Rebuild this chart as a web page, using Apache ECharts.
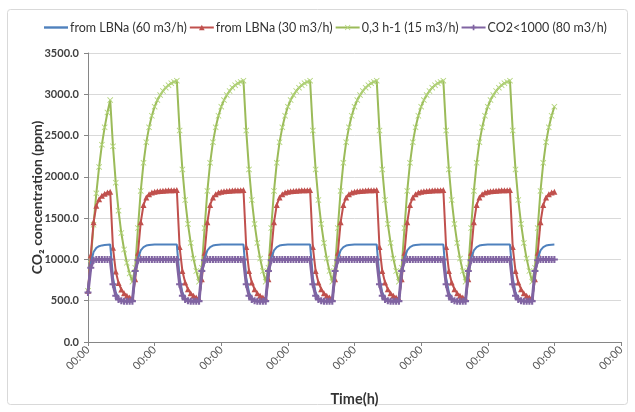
<!DOCTYPE html>
<html>
<head>
<meta charset="utf-8">
<script src="https://cdn.jsdelivr.net/npm/echarts@6/dist/echarts.min.js"></script>
<style>
html,body{margin:0;padding:0;background:#fff;}
#c{width:635px;height:412px;}
</style>
</head>
<body>
<div id="c"></div>
<script>
// Hourly samples, t = 0 .. 168 h
const seriesNames = ['from LBNa (60 m3/h)', 'from LBNa (30 m3/h)', '0,3 h-1 (15 m3/h)', 'CO2<1000 (80 m3/h)'];
const xTickLabel = '00:00';
const yTicks = [0, 500, 1000, 1500, 2000, 2500, 3000, 3500];

const blue60 = [
  620,950,1090,1140,1160,1170,1175,1178,1180,780,600,530,505,500,500,500,
  500,820,1010,1110,1150,1168,1175,1178,1180,1180,1180,1180,1180,1180,1180,1180,1180,780,600,530,505,500,500,500,
  500,820,1010,1110,1150,1168,1175,1178,1180,1180,1180,1180,1180,1180,1180,1180,1180,780,600,530,505,500,500,500,
  500,820,1010,1110,1150,1168,1175,1178,1180,1180,1180,1180,1180,1180,1180,1180,1180,780,600,530,505,500,500,500,
  500,820,1010,1110,1150,1168,1175,1178,1180,1180,1180,1180,1180,1180,1180,1180,1180,780,600,530,505,500,500,500,
  500,820,1010,1110,1150,1168,1175,1178,1180,1180,1180,1180,1180,1180,1180,1180,1180,780,600,530,505,500,500,500,
  500,820,1010,1110,1150,1168,1175,1178,1180,1180,1180,1180,1180,1180,1180,1180,1180,780,600,530,505,500,500,500,
  500,820,1010,1110,1150,1168,1175,1178,1180
];
const red30 = [
  620,1050,1450,1650,1730,1770,1795,1810,1820,1140,855,715,635,590,560,540,
  525,760,1080,1450,1660,1750,1790,1810,1820,1826,1830,1833,1835,1837,1838,1839,1840,1150,860,720,640,590,560,540,
  525,760,1080,1450,1660,1750,1790,1810,1820,1826,1830,1833,1835,1837,1838,1839,1840,1150,860,720,640,590,560,540,
  525,760,1080,1450,1660,1750,1790,1810,1820,1826,1830,1833,1835,1837,1838,1839,1840,1150,860,720,640,590,560,540,
  525,760,1080,1450,1660,1750,1790,1810,1820,1826,1830,1833,1835,1837,1838,1839,1840,1150,860,720,640,590,560,540,
  525,760,1080,1450,1660,1750,1790,1810,1820,1826,1830,1833,1835,1837,1838,1839,1840,1150,860,720,640,590,560,540,
  525,760,1080,1450,1660,1750,1790,1810,1820,1826,1830,1833,1835,1837,1838,1839,1840,1150,860,720,640,590,560,540,
  525,760,1080,1450,1660,1750,1790,1810,1820
];
const green15 = [
  620,1000,1420,1800,2120,2390,2600,2780,2930,2370,1930,1590,1320,1120,960,830,
  730,900,1380,1830,2170,2420,2600,2740,2850,2930,2990,3040,3080,3110,3135,3150,3165,2560,2090,1720,1430,1200,1010,860,
  730,900,1380,1830,2170,2420,2600,2740,2850,2930,2990,3040,3080,3110,3135,3150,3165,2560,2090,1720,1430,1200,1010,860,
  730,900,1380,1830,2170,2420,2600,2740,2850,2930,2990,3040,3080,3110,3135,3150,3165,2560,2090,1720,1430,1200,1010,860,
  730,900,1380,1830,2170,2420,2600,2740,2850,2930,2990,3040,3080,3110,3135,3150,3165,2560,2090,1720,1430,1200,1010,860,
  730,900,1380,1830,2170,2420,2600,2740,2850,2930,2990,3040,3080,3110,3135,3150,3165,2560,2090,1720,1430,1200,1010,860,
  730,900,1380,1830,2170,2420,2600,2740,2850,2930,2990,3040,3080,3110,3135,3150,3165,2560,2090,1720,1430,1200,1010,860,
  730,900,1380,1830,2170,2420,2600,2740,2850
];
const purple80 = [
  600,900,990,1000,1000,1000,1000,1000,1000,700,560,515,500,495,495,495,
  495,860,990,1000,1000,1000,1000,1000,1000,1000,1000,1000,1000,1000,1000,1000,1000,700,560,515,500,495,495,495,
  495,860,990,1000,1000,1000,1000,1000,1000,1000,1000,1000,1000,1000,1000,1000,1000,700,560,515,500,495,495,495,
  495,860,990,1000,1000,1000,1000,1000,1000,1000,1000,1000,1000,1000,1000,1000,1000,700,560,515,500,495,495,495,
  495,860,990,1000,1000,1000,1000,1000,1000,1000,1000,1000,1000,1000,1000,1000,1000,700,560,515,500,495,495,495,
  495,860,990,1000,1000,1000,1000,1000,1000,1000,1000,1000,1000,1000,1000,1000,1000,700,560,515,500,495,495,495,
  495,860,990,1000,1000,1000,1000,1000,1000,1000,1000,1000,1000,1000,1000,1000,1000,700,560,515,500,495,495,495,
  495,860,990,1000,1000,1000,1000,1000,1000
];

const toPairs = arr => arr.map((v, i) => [i, v]);
const X_PATH = 'path://M0,1 L1,0 L5,4 L9,0 L10,1 L6,5 L10,9 L9,10 L5,6 L1,10 L0,9 L4,5 Z';
const PLUS_PATH = 'path://M3.5,0 L6.5,0 L6.5,3.5 L10,3.5 L10,6.5 L6.5,6.5 L6.5,10 L3.5,10 L3.5,6.5 L0,6.5 L0,3.5 L3.5,3.5 Z';
const LINE_ICON = 'path://M0,0 L24,0 L24,2.4 L0,2.4 Z';
const FONT = 'Lato, "Noto Sans", sans-serif';

const chart = echarts.init(document.getElementById('c'), null, {renderer: 'canvas'});
chart.setOption({
  animation: false,
  backgroundColor: '#fff',
  graphic: [{
    type: 'rect', shape: {x: 7.5, y: 9.5, width: 620, height: 395, r: 3},
    style: {fill: 'none', stroke: '#D9D9D9', lineWidth: 1}, silent: true, z: -1
  }],
  legend: {
    top: 16, left: 39,
    itemWidth: 24, itemHeight: 7, itemGap: 2,
    textStyle: {fontFamily: FONT, fontSize: 12.5, color: '#333', padding: [0, 0, 0, -3]},
    data: [
      {name: seriesNames[0], icon: LINE_ICON},
      {name: seriesNames[1]},
      {name: seriesNames[2]},
      {name: seriesNames[3]}
    ]
  },
  grid: {left: 88, right: 14, top: 53, bottom: 70, containLabel: false},
  xAxis: {
    type: 'value', min: 0, max: 192, interval: 24,
    axisLine: {lineStyle: {color: '#868686'}},
    axisTick: {show: true, length: 4, lineStyle: {color: '#868686'}},
    splitLine: {show: false},
    axisLabel: {rotate: 45, formatter: () => xTickLabel, fontFamily: FONT, fontSize: 11, color: '#555', margin: 6},
    name: 'Time(h)', nameLocation: 'middle', nameGap: 50,
    nameTextStyle: {fontFamily: FONT, fontSize: 14.5, fontWeight: 'bold', color: '#333'}
  },
  yAxis: {
    type: 'value', min: yTicks[0], max: yTicks[yTicks.length - 1], interval: 500,
    axisLine: {show: true, lineStyle: {color: '#868686'}},
    axisTick: {show: true, length: 4, lineStyle: {color: '#868686'}},
    splitLine: {lineStyle: {color: '#D9D9D9', width: 1}},
    axisLabel: {formatter: v => v.toFixed(1), fontFamily: FONT, fontSize: 11, fontWeight: 'bold', color: '#404040', margin: 9},
    name: 'CO₂ concentration (ppm)', nameLocation: 'middle', nameGap: 44, nameRotate: 90,
    nameMoveOverlap: false,
    nameTextStyle: {fontFamily: FONT, fontSize: 14, fontWeight: 'bold', color: '#333'}
  },
  series: [
    {name: seriesNames[0], type: 'line', data: toPairs(blue60), symbol: 'none',
     lineStyle: {color: '#4F81BD', width: 2}, itemStyle: {color: '#4F81BD'}, z: 3},
    {name: seriesNames[1], type: 'line', data: toPairs(red30), symbol: 'triangle', symbolSize: 6, showSymbol: true,
     lineStyle: {color: '#C0504D', width: 2}, itemStyle: {color: '#C0504D'}, z: 2},
    {name: seriesNames[2], type: 'line', data: toPairs(green15), symbol: X_PATH, symbolSize: 6, showSymbol: true,
     lineStyle: {color: '#9BBB59', width: 2}, itemStyle: {color: '#B2D47A'}, z: 1},
    {name: seriesNames[3], type: 'line', data: toPairs(purple80), symbol: PLUS_PATH, symbolSize: 7, showSymbol: true,
     lineStyle: {color: '#8064A2', width: 3}, itemStyle: {color: '#8064A2'}, z: 4}
  ]
});
</script>
</body>
</html>
